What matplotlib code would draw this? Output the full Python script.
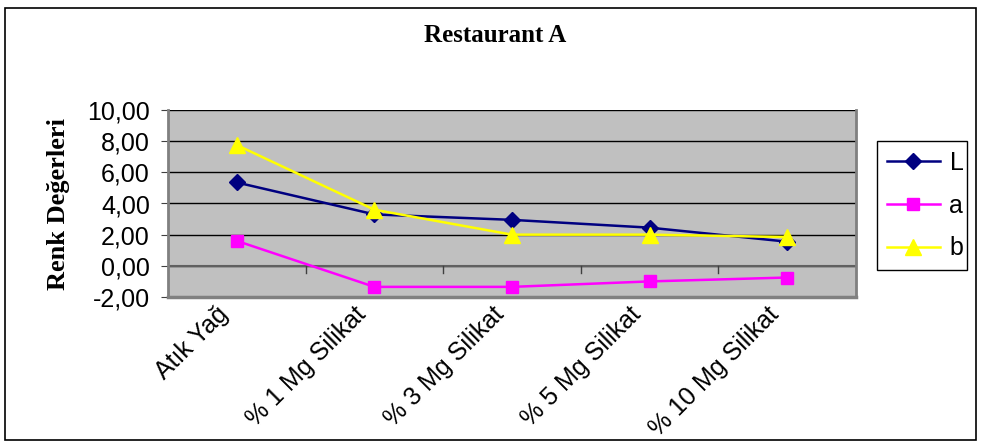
import matplotlib.pyplot as plt
from matplotlib.ticker import FuncFormatter
from matplotlib.patches import Rectangle
from matplotlib.transforms import ScaledTranslation

categories = ['Atık Yağ', '% 1 Mg Silikat', '% 3 Mg Silikat', '% 5 Mg Silikat', '% 10 Mg Silikat']
L_vals = [5.35, 3.3, 2.95, 2.45, 1.55]
a_vals = [1.6, -1.35, -1.35, -1.0, -0.75]
b_vals = [7.75, 3.6, 2.0, 2.0, 1.85]

W, H = 981, 448
fig = plt.figure(figsize=(W / 100, H / 100), dpi=100)

# outer chart frame
fig.patches.append(Rectangle((5 / W, 8 / H), 971 / W, 432 / H, transform=fig.transFigure,
                             fill=False, edgecolor='black', linewidth=1.2))

ax = fig.add_axes([168 / W, 1 - 297 / H, 688 / W, 187 / H])
ax.set_facecolor('#c0c0c0')

x = range(len(categories))
ax.plot(x, L_vals, color='#000080', marker='D', markersize=8, linewidth=1.8, label='L')
ax.plot(x, a_vals, color='#ff00ff', marker='s', markersize=9, linewidth=1.8, label='a')
ax.plot(x, b_vals, color='#ffff00', marker='^', markersize=11, linewidth=1.8, label='b')

ax.set_xlim(-0.5, len(categories) - 0.5)
ax.set_ylim(-2, 10)
ax.set_yticks(range(-2, 11, 2))
ax.yaxis.set_major_formatter(FuncFormatter(lambda v, p: f'{v:.2f}'.replace('.', ',')))
ax.grid(axis='y', color='black', linewidth=1)
ax.set_axisbelow(True)

# category axis crosses at zero with ticks between categories
ax.spines['bottom'].set_visible(False)
ax.axhline(0, color='#606060', linewidth=1.5, zorder=1)
for i in range(1, len(categories)):
    ax.plot([i - 0.5, i - 0.5], [0, -0.45], color='#404040', linewidth=1, zorder=1)
ax.spines['top'].set_visible(False)
for side in ('left', 'right'):
    ax.spines[side].set_color('#808080')
    ax.spines[side].set_linewidth(2)
ax.plot([-0.5, len(categories) - 0.5], [-2, -2], color='#808080', linewidth=2.5,
        clip_on=False, zorder=3)

ax.set_xticks(list(x))
ax.set_xticklabels(categories, rotation=45, ha='right', va='center', rotation_mode='anchor',
                   fontsize=18, family='Liberation Sans')
ax.tick_params(axis='x', length=0, pad=10)
shift = ScaledTranslation(-0.12, 0, fig.dpi_scale_trans)
for t in ax.get_xticklabels():
    t.set_transform(t.get_transform() + shift)
ax.tick_params(axis='y', labelsize=18, length=5, pad=8, color='#404040', direction='out')
for t in ax.get_yticklabels():
    t.set_family('Liberation Sans')

ax.set_ylabel('Renk Değerleri', family='Liberation Serif', fontweight='bold', fontsize=19)
ax.yaxis.set_label_coords(-0.143, 0.5)
fig.text((424 + 567) / 2 / W, 1 - 36 / H, 'Restaurant A', family='Liberation Serif',
         fontweight='bold', fontsize=18, ha='center', va='center')

leg = ax.legend(loc='center left', bbox_to_anchor=(877 / W, 1 - 268 / H, 90 / W, 125 / H),
                bbox_transform=fig.transFigure, mode='expand', frameon=True, fancybox=False,
                edgecolor='black', framealpha=1, prop={'family': 'Liberation Sans', 'size': 18},
                handlelength=2.1, labelspacing=0.75, borderaxespad=0, handletextpad=0.4)
leg.get_frame().set_linewidth(1)

fig.savefig('out.png', dpi=100)
